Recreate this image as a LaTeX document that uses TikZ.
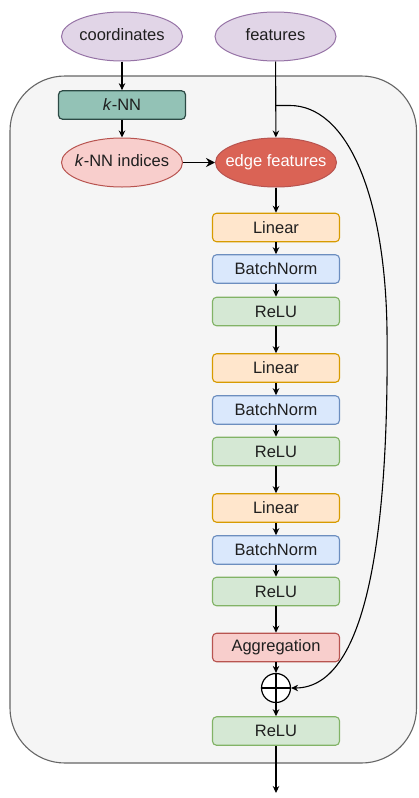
\documentclass[tikz,border=0pt]{standalone}
\usepackage{fontspec}
\setmainfont{Liberation Sans}
\usetikzlibrary{arrows.meta,shapes.geometric}
\definecolor{purpF}{HTML}{E1D5E7}\definecolor{purpD}{HTML}{9673A6}
\definecolor{tealF}{HTML}{93C2B6}\definecolor{tealD}{HTML}{2C4A45}
\definecolor{pinkF}{HTML}{F8CECC}\definecolor{pinkD}{HTML}{B85450}
\definecolor{redF}{HTML}{DA6355}
\definecolor{orF}{HTML}{FFE6CC}\definecolor{orD}{HTML}{D79B00}
\definecolor{blF}{HTML}{DAE8FC}\definecolor{blD}{HTML}{6C8EBF}
\definecolor{grF}{HTML}{D5E8D4}\definecolor{grD}{HTML}{82B366}
\definecolor{contF}{HTML}{F5F5F5}\definecolor{contD}{HTML}{666666}
\newcommand{\ectext}[1]{\makebox[0pt][c]{#1}}
\begin{document}
\begin{tikzpicture}[x=1pt,y=-1pt,
  every node/.style={font=\fontsize{16.5}{19}\selectfont, text=black!88, inner sep=0pt},
  ell/.style={ellipse, draw=#1, line width=1pt, minimum width=121pt, minimum height=49pt, text height=0pt, text depth=0pt},
  blk/.style={rectangle, rounded corners=4pt, line width=1.1pt, minimum width=127pt, minimum height=28.5pt},
  lin/.style={blk, draw=orD, fill=orF},
  bn/.style={blk, draw=blD, fill=blF},
  relu/.style={blk, draw=grD, fill=grF},
  agg/.style={blk, draw=pinkD, fill=pinkF},
  arr/.style={line width=1.1pt, -{Stealth[length=7pt,width=6.5pt]}},
  bigarr/.style={line width=1.6pt, -{Stealth[length=9pt,width=9pt]}}
]
\useasboundingbox (0,0) rectangle (418,798);
\draw[fill=contF, draw=contD, line width=1.1pt, rounded corners=55pt] (10,76) rectangle (416.5,763);

\node[ell=purpD, fill=purpF] (coord) at (122,36.5) {\ectext{\raisebox{-0.5ex}{coordinates}}};
\node[ell=purpD, fill=purpF] (feat) at (275.5,36.5) {\ectext{\raisebox{-0.5ex}{features}}};
\node[blk, draw=tealD, fill=tealF, line width=1.2pt] (knn) at (122,105) {\textit{k}-NN};
\node[ell=pinkD, fill=pinkF] (idx) at (122,162.5) {\ectext{\raisebox{-0.5ex}{\textit{k}-NN indices}}};
\node[ell=pinkD, fill=redF, text=white] (edge) at (276,162.5) {\ectext{\raisebox{-0.5ex}{edge features}}};

\node[lin] (l1) at (276,227.5) {Linear};
\node[bn] (b1) at (276,269) {BatchNorm};
\node[relu] (r1) at (276,311.5) {ReLU};
\node[lin] (l2) at (276,368) {Linear};
\node[bn] (b2) at (276,410) {BatchNorm};
\node[relu] (r2) at (276,451.5) {ReLU};
\node[lin] (l3) at (276,508) {Linear};
\node[bn] (b3) at (276,550) {BatchNorm};
\node[relu] (r3) at (276,591.5) {ReLU};
\node[agg] (ag) at (276,647.5) {Aggregation};
\node[circle, draw=black, line width=1.2pt, minimum size=29pt, fill=white] (plus) at (276,688) {};
\draw[line width=1.1pt] (plus.west) -- (plus.east);
\draw[line width=1.1pt] (plus.north) -- (plus.south);
\node[relu] (r4) at (276,731) {ReLU};
\coordinate (out) at (276,793);
\coordinate (br) at (276,105.5);

\draw[arr] (coord) -- (knn);
\draw[arr] (knn) -- (idx);
\draw[bigarr] (idx) -- (edge);
\draw[arr] (feat) -- (edge);
\draw[arr] (edge) -- (l1);
\draw[arr] (l1) -- (b1);
\draw[arr] (b1) -- (r1);
\draw[arr] (r1) -- (l2);
\draw[arr] (l2) -- (b2);
\draw[arr] (b2) -- (r2);
\draw[arr] (r2) -- (l3);
\draw[arr] (l3) -- (b3);
\draw[arr] (b3) -- (r3);
\draw[arr] (r3) -- (ag);
\draw[arr] (ag) -- (plus);
\draw[arr] (plus) -- (r4);
\draw[arr] (r4) -- (out);
\draw[arr] (br) -- (290,105.5) .. controls (345,105.5) and (385,190) .. (387,330)
   .. controls (389,520) and (370,688) .. (plus.east);
\end{tikzpicture}
\end{document}
